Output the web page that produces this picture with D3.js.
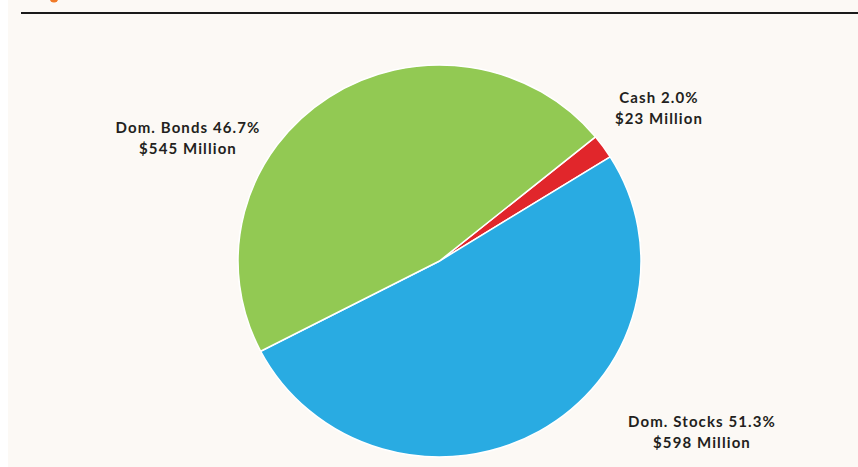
<!DOCTYPE html>
<html><head><meta charset="utf-8">
<script src="https://cdn.jsdelivr.net/npm/d3@7"></script>
<style>
html,body{margin:0;padding:0;background:#fff;}
svg{display:block;}
text{font-family:Lato,"Open Sans",sans-serif;font-weight:700;fill:#231f20;}
</style></head>
<body>
<script>
const categories = ["Cash", "Dom. Stocks", "Dom. Bonds"];
const percents = [2.0, 51.3, 46.7];
const amounts = ["$23 Million", "$598 Million", "$545 Million"];
const colors = ["#e1262b", "#29abe2", "#92c953"];

const W = 858, H = 467;
const svg = d3.select("body").append("svg").attr("width", W).attr("height", H);
svg.append("rect").attr("x", 8).attr("y", 0).attr("width", W - 8).attr("height", H).attr("fill", "#fcf9f5");
svg.append("circle").attr("cx", 54).attr("cy", -2).attr("r", 4.5).attr("fill", "#f07a28");
svg.append("line").attr("x1", 21).attr("x2", W).attr("y1", 13).attr("y2", 13)
  .attr("stroke", "#1a1a1a").attr("stroke-width", 2);

const cx = 439.5, cy = 261, R = 196;
const start = 50.7 * Math.PI / 180;
const pie = d3.pie().sort(null).value(d => d).startAngle(start).endAngle(start + 2 * Math.PI);
const arcs = pie(percents);
const arc = d3.arc().innerRadius(0).outerRadius(R);
const g = svg.append("g").attr("transform", `translate(${cx},${cy}) scale(1.028,1)`);
g.selectAll("path").data(arcs).join("path")
  .attr("d", arc).attr("fill", (d, i) => colors[i])
  .attr("stroke", "#ffffff").attr("stroke-width", 1.5).attr("stroke-linejoin", "round");

// label anchor positions (layout)
const labelPos = [[659, 103], [702, 427], [188, 133]];
categories.forEach((c, i) => {
  const t = svg.append("text").attr("text-anchor", "middle")
    .attr("x", labelPos[i][0]).attr("y", labelPos[i][1])
    .attr("font-size", 15).attr("letter-spacing", 1.1);
  t.append("tspan").attr("x", labelPos[i][0]).text(`${c} ${percents[i].toFixed(1)}%`);
  t.append("tspan").attr("x", labelPos[i][0]).attr("dy", 21).text(amounts[i]);
});
</script>
</body></html>
